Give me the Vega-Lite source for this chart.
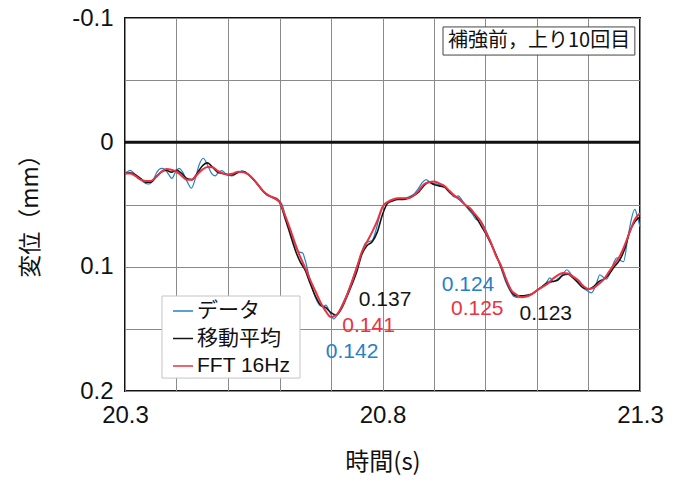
{
  "$schema": "https://vega.github.io/schema/vega-lite/v6.json",
  "width": 515,
  "height": 373,
  "autosize": {"type": "none"},
  "padding": {"left": 125, "top": 18, "right": 43, "bottom": 91},
  "background": "white",
  "config": {
    "view": {"stroke": "#111", "strokeWidth": 2},
    "font": "Liberation Sans"
  },
  "datasets": {
    "raw": [
      {"t":20.300,"v":0.025},{"t":20.305,"v":0.0235},{"t":20.310,"v":0.0225},{"t":20.320,"v":0.026},{"t":20.330,"v":0.030},
      {"t":20.340,"v":0.033},{"t":20.347,"v":0.0335},{"t":20.355,"v":0.030},{"t":20.362,"v":0.024},{"t":20.371,"v":0.021},
      {"t":20.378,"v":0.022},{"t":20.385,"v":0.026},{"t":20.391,"v":0.029},{"t":20.398,"v":0.024},{"t":20.405,"v":0.0209},
      {"t":20.412,"v":0.024},{"t":20.420,"v":0.031},{"t":20.429,"v":0.0369},{"t":20.436,"v":0.030},{"t":20.444,"v":0.018},
      {"t":20.452,"v":0.0128},{"t":20.460,"v":0.018},{"t":20.468,"v":0.025},{"t":20.475,"v":0.027},{"t":20.482,"v":0.024},
      {"t":20.488,"v":0.0228},{"t":20.495,"v":0.025},{"t":20.507,"v":0.027},{"t":20.517,"v":0.025},{"t":20.527,"v":0.023},
      {"t":20.537,"v":0.025},{"t":20.547,"v":0.029},{"t":20.557,"v":0.034},{"t":20.567,"v":0.039},{"t":20.577,"v":0.043},
      {"t":20.587,"v":0.044},{"t":20.595,"v":0.045},{"t":20.600,"v":0.047},{"t":20.605,"v":0.050},{"t":20.612,"v":0.060},
      {"t":20.620,"v":0.071},{"t":20.630,"v":0.083},{"t":20.637,"v":0.088},{"t":20.645,"v":0.089},{"t":20.650,"v":0.095},
      {"t":20.660,"v":0.112},{"t":20.670,"v":0.125},{"t":20.678,"v":0.131},{"t":20.685,"v":0.132},{"t":20.690,"v":0.131},
      {"t":20.697,"v":0.136},{"t":20.705,"v":0.142},{"t":20.712,"v":0.139},{"t":20.720,"v":0.132},{"t":20.730,"v":0.123},
      {"t":20.740,"v":0.112},{"t":20.750,"v":0.100},{"t":20.760,"v":0.088},{"t":20.767,"v":0.081},{"t":20.773,"v":0.080},
      {"t":20.780,"v":0.079},{"t":20.787,"v":0.071},{"t":20.795,"v":0.058},{"t":20.803,"v":0.050},{"t":20.810,"v":0.048},
      {"t":20.820,"v":0.047},{"t":20.830,"v":0.045},{"t":20.840,"v":0.045},{"t":20.850,"v":0.044},{"t":20.860,"v":0.042},
      {"t":20.870,"v":0.037},{"t":20.878,"v":0.032},{"t":20.885,"v":0.030},{"t":20.892,"v":0.032},{"t":20.900,"v":0.033},
      {"t":20.910,"v":0.034},{"t":20.920,"v":0.036},{"t":20.930,"v":0.040},{"t":20.940,"v":0.044},{"t":20.947,"v":0.043},
      {"t":20.955,"v":0.047},{"t":20.965,"v":0.053},{"t":20.975,"v":0.058},{"t":20.982,"v":0.062},{"t":20.990,"v":0.063},
      {"t":21.000,"v":0.070},{"t":21.010,"v":0.080},{"t":21.020,"v":0.090},{"t":21.030,"v":0.101},{"t":21.040,"v":0.113},
      {"t":21.050,"v":0.121},{"t":21.055,"v":0.124},{"t":21.065,"v":0.125},{"t":21.075,"v":0.124},{"t":21.085,"v":0.123},
      {"t":21.095,"v":0.121},{"t":21.100,"v":0.119},{"t":21.110,"v":0.116},{"t":21.118,"v":0.113},{"t":21.125,"v":0.109},
      {"t":21.132,"v":0.112},{"t":21.140,"v":0.110},{"t":21.150,"v":0.106},{"t":21.158,"v":0.1025},{"t":21.166,"v":0.106},
      {"t":21.176,"v":0.111},{"t":21.186,"v":0.116},{"t":21.196,"v":0.119},{"t":21.206,"v":0.121},{"t":21.215,"v":0.114},
      {"t":21.222,"v":0.1065},{"t":21.230,"v":0.109},{"t":21.235,"v":0.110},{"t":21.245,"v":0.101},{"t":21.255,"v":0.093},
      {"t":21.262,"v":0.095},{"t":21.268,"v":0.096},{"t":21.277,"v":0.075},{"t":21.290,"v":0.054},{"t":21.295,"v":0.060},
      {"t":21.300,"v":0.068}
    ],
    "ma": [
      {"t":20.30,"v":0.025},{"t":20.31,"v":0.0245},{"t":20.32,"v":0.026},{"t":20.33,"v":0.029},{"t":20.34,"v":0.032},
      {"t":20.35,"v":0.032},{"t":20.36,"v":0.028},{"t":20.37,"v":0.024},{"t":20.38,"v":0.0225},{"t":20.39,"v":0.024},
      {"t":20.40,"v":0.0225},{"t":20.41,"v":0.025},{"t":20.42,"v":0.029},{"t":20.43,"v":0.030},{"t":20.44,"v":0.025},
      {"t":20.45,"v":0.019},{"t":20.46,"v":0.0165},{"t":20.47,"v":0.020},{"t":20.48,"v":0.024},{"t":20.49,"v":0.025},
      {"t":20.50,"v":0.026},{"t":20.51,"v":0.026},{"t":20.52,"v":0.024},{"t":20.53,"v":0.0235},{"t":20.54,"v":0.026},
      {"t":20.55,"v":0.030},{"t":20.56,"v":0.035},{"t":20.57,"v":0.040},{"t":20.58,"v":0.043},{"t":20.59,"v":0.045},
      {"t":20.60,"v":0.048},{"t":20.61,"v":0.060},{"t":20.62,"v":0.073},{"t":20.63,"v":0.086},{"t":20.64,"v":0.096},
      {"t":20.65,"v":0.103},{"t":20.66,"v":0.114},{"t":20.67,"v":0.124},{"t":20.68,"v":0.131},{"t":20.69,"v":0.133},
      {"t":20.70,"v":0.137},{"t":20.71,"v":0.139},{"t":20.72,"v":0.134},{"t":20.73,"v":0.125},{"t":20.74,"v":0.115},
      {"t":20.75,"v":0.104},{"t":20.76,"v":0.090},{"t":20.77,"v":0.083},{"t":20.78,"v":0.080},{"t":20.79,"v":0.072},
      {"t":20.80,"v":0.058},{"t":20.81,"v":0.049},{"t":20.82,"v":0.047},{"t":20.83,"v":0.046},{"t":20.84,"v":0.046},
      {"t":20.85,"v":0.045},{"t":20.86,"v":0.043},{"t":20.87,"v":0.040},{"t":20.88,"v":0.035},{"t":20.89,"v":0.032},
      {"t":20.90,"v":0.034},{"t":20.91,"v":0.035},{"t":20.92,"v":0.036},{"t":20.93,"v":0.040},{"t":20.94,"v":0.043},
      {"t":20.95,"v":0.046},{"t":20.96,"v":0.050},{"t":20.97,"v":0.054},{"t":20.98,"v":0.059},{"t":20.99,"v":0.066},
      {"t":21.00,"v":0.073},{"t":21.01,"v":0.081},{"t":21.02,"v":0.090},{"t":21.03,"v":0.100},{"t":21.04,"v":0.111},
      {"t":21.05,"v":0.120},{"t":21.06,"v":0.1235},{"t":21.07,"v":0.1235},{"t":21.08,"v":0.123},{"t":21.09,"v":0.122},
      {"t":21.10,"v":0.119},{"t":21.11,"v":0.116},{"t":21.12,"v":0.113},{"t":21.13,"v":0.112},{"t":21.14,"v":0.111},
      {"t":21.15,"v":0.107},{"t":21.16,"v":0.106},{"t":21.17,"v":0.109},{"t":21.18,"v":0.113},{"t":21.19,"v":0.117},
      {"t":21.20,"v":0.118},{"t":21.21,"v":0.116},{"t":21.22,"v":0.112},{"t":21.23,"v":0.110},{"t":21.24,"v":0.106},
      {"t":21.25,"v":0.100},{"t":21.26,"v":0.095},{"t":21.27,"v":0.086},{"t":21.28,"v":0.072},{"t":21.29,"v":0.064},
      {"t":21.30,"v":0.060}
    ],
    "fft": [
      {"t":20.30,"v":0.025},{"t":20.31,"v":0.025},{"t":20.32,"v":0.027},{"t":20.33,"v":0.030},{"t":20.34,"v":0.031},
      {"t":20.35,"v":0.031},{"t":20.36,"v":0.028},{"t":20.37,"v":0.024},{"t":20.38,"v":0.0215},{"t":20.39,"v":0.022},
      {"t":20.40,"v":0.0235},{"t":20.41,"v":0.027},{"t":20.42,"v":0.030},{"t":20.43,"v":0.030},{"t":20.44,"v":0.026},
      {"t":20.45,"v":0.022},{"t":20.46,"v":0.0198},{"t":20.47,"v":0.020},{"t":20.48,"v":0.023},{"t":20.49,"v":0.025},
      {"t":20.50,"v":0.026},{"t":20.51,"v":0.025},{"t":20.52,"v":0.0236},{"t":20.53,"v":0.024},{"t":20.54,"v":0.026},
      {"t":20.55,"v":0.030},{"t":20.56,"v":0.035},{"t":20.57,"v":0.040},{"t":20.58,"v":0.043},{"t":20.59,"v":0.045},
      {"t":20.60,"v":0.048},{"t":20.61,"v":0.058},{"t":20.62,"v":0.069},{"t":20.63,"v":0.081},{"t":20.64,"v":0.092},
      {"t":20.65,"v":0.101},{"t":20.66,"v":0.111},{"t":20.67,"v":0.120},{"t":20.68,"v":0.129},{"t":20.69,"v":0.136},
      {"t":20.70,"v":0.1405},{"t":20.71,"v":0.139},{"t":20.72,"v":0.133},{"t":20.73,"v":0.124},{"t":20.74,"v":0.113},
      {"t":20.75,"v":0.101},{"t":20.76,"v":0.088},{"t":20.77,"v":0.080},{"t":20.78,"v":0.072},{"t":20.79,"v":0.063},
      {"t":20.80,"v":0.052},{"t":20.81,"v":0.048},{"t":20.82,"v":0.046},{"t":20.83,"v":0.045},{"t":20.84,"v":0.045},
      {"t":20.85,"v":0.045},{"t":20.86,"v":0.043},{"t":20.87,"v":0.039},{"t":20.88,"v":0.034},{"t":20.89,"v":0.032},
      {"t":20.90,"v":0.0315},{"t":20.91,"v":0.033},{"t":20.92,"v":0.035},{"t":20.93,"v":0.039},{"t":20.94,"v":0.043},
      {"t":20.95,"v":0.046},{"t":20.96,"v":0.050},{"t":20.97,"v":0.053},{"t":20.98,"v":0.058},{"t":20.99,"v":0.063},
      {"t":21.00,"v":0.072},{"t":21.01,"v":0.080},{"t":21.02,"v":0.091},{"t":21.03,"v":0.099},{"t":21.04,"v":0.110},
      {"t":21.05,"v":0.119},{"t":21.06,"v":0.1225},{"t":21.07,"v":0.1245},{"t":21.08,"v":0.124},{"t":21.09,"v":0.122},
      {"t":21.10,"v":0.119},{"t":21.11,"v":0.1165},{"t":21.12,"v":0.114},{"t":21.13,"v":0.110},{"t":21.14,"v":0.107},
      {"t":21.15,"v":0.105},{"t":21.16,"v":0.1055},{"t":21.17,"v":0.108},{"t":21.18,"v":0.111},{"t":21.19,"v":0.1155},
      {"t":21.20,"v":0.118},{"t":21.21,"v":0.117},{"t":21.22,"v":0.114},{"t":21.23,"v":0.110},{"t":21.24,"v":0.104},
      {"t":21.25,"v":0.098},{"t":21.26,"v":0.092},{"t":21.27,"v":0.083},{"t":21.28,"v":0.072},{"t":21.29,"v":0.062},
      {"t":21.30,"v":0.057}
    ],
    "labels": [
      {"t":20.805,"v":0.1265,"label":"0.137","s":"移動平均"},
      {"t":20.773,"v":0.1475,"label":"0.141","s":"FFT 16Hz"},
      {"t":20.741,"v":0.169,"label":"0.142","s":"データ"},
      {"t":20.966,"v":0.1145,"label":"0.124","s":"データ"},
      {"t":20.984,"v":0.134,"label":"0.125","s":"FFT 16Hz"},
      {"t":21.117,"v":0.138,"label":"0.123","s":"移動平均"}
    ]
  },
  "encoding": {
    "x": {
      "field": "t", "type": "quantitative",
      "scale": {"domain": [20.3, 21.3], "nice": false, "zero": false},
      "axis": {
        "title": "時間(s)",
        "values": [20.3, 20.4, 20.5, 20.6, 20.7, 20.8, 20.9, 21.0, 21.1, 21.2, 21.3],
        "labelExpr": "abs(datum.value-20.3)<0.001 ? '20.3' : abs(datum.value-20.8)<0.001 ? '20.8' : abs(datum.value-21.3)<0.001 ? '21.3' : ''",
        "labelFont": "Liberation Sans", "labelFontSize": 24, "labelColor": "#111",
        "labelPadding": 12, "labelOverlap": false, "labelFlush": false,
        "ticks": false, "domain": false,
        "grid": true, "gridColor": "#8a8a8a", "gridWidth": 1,
        "titleFont": "Noto Sans CJK JP", "titleFontSize": 24, "titleFontWeight": "normal", "titleColor": "#111",
        "titleY": 71, "titleBaseline": "middle"
      }
    },
    "y": {
      "field": "v", "type": "quantitative",
      "scale": {"domain": [-0.1, 0.2], "reverse": true, "nice": false, "zero": false},
      "axis": {
        "title": "変位（mm）",
        "values": [-0.1, -0.05, 0, 0.05, 0.1, 0.15, 0.2],
        "labelExpr": "abs(datum.value+0.1)<1e-6 ? '-0.1' : abs(datum.value)<1e-6 ? '0' : abs(datum.value-0.1)<1e-6 ? '0.1' : abs(datum.value-0.2)<1e-6 ? '0.2' : ''",
        "labelFont": "Liberation Sans", "labelFontSize": 24, "labelColor": "#111",
        "labelPadding": 12, "labelOverlap": false, "labelFlush": false,
        "ticks": false, "domain": false,
        "grid": true, "gridColor": "#8a8a8a", "gridWidth": 1,
        "titleFont": "Noto Sans CJK JP", "titleFontSize": 23, "titleFontWeight": "normal", "titleColor": "#111",
        "titleX": -95, "titleY": 192, "titleAngle": -90, "titleAlign": "center", "titleBaseline": "middle"
      }
    }
  },
  "layer": [
    {
      "data": {"name": "raw"},
      "mark": {"type": "line", "strokeWidth": 1.2, "interpolate": "monotone"},
      "encoding": {
        "color": {
          "datum": "データ", "type": "nominal", "title": null,
          "scale": {"domain": ["データ", "移動平均", "FFT 16Hz"], "range": ["#2680c8", "#151515", "#ea3340"]},
          "legend": {
            "orient": "none", "legendX": 47, "legendY": 282, "title": null,
            "padding": 0, "symbolType": "stroke", "symbolSize": 400, "symbolStrokeWidth": 1.5,
            "labelFont": "Liberation Sans, Noto Sans CJK JP", "labelFontSize": 21, "labelColor": "#111",
            "labelOffset": 3, "rowPadding": 6.5, "labelLimit": 300
          }
        }
      }
    },
    {
      "data": {"name": "ma"},
      "mark": {"type": "line", "strokeWidth": 1.6, "interpolate": "monotone"},
      "encoding": {"color": {"datum": "移動平均", "type": "nominal", "title": null}}
    },
    {
      "data": {"name": "fft"},
      "mark": {"type": "line", "strokeWidth": 2, "interpolate": "monotone"},
      "encoding": {"color": {"datum": "FFT 16Hz", "type": "nominal", "title": null}}
    },
    {
      "data": {"values": [{"zero": 0}]},
      "mark": {"type": "rule", "color": "#111", "strokeWidth": 3},
      "encoding": {"y": {"field": "zero", "type": "quantitative"}, "x": {"value": 0}, "x2": {"value": 515}}
    },
    {
      "data": {"values": [{"t1": 20.3718, "t2": 20.6398, "v1": 0.1236, "v2": 0.1896}]},
      "mark": {"type": "rect", "fill": "white", "stroke": "#c4c4c4", "strokeWidth": 1},
      "encoding": {
        "x": {"field": "t1", "type": "quantitative"}, "x2": {"field": "t2"},
        "y": {"field": "v1", "type": "quantitative"}, "y2": {"field": "v2"}
      }
    },
    {
      "data": {"values": [{"t1": 20.9175, "t2": 21.290, "v1": -0.0928, "v2": -0.0702, "tc": 21.104, "vc": -0.0815, "label": "補強前，上り10回目"}]},
      "layer": [
        {
          "mark": {"type": "rect", "fill": "white", "stroke": "#444", "strokeWidth": 1},
          "encoding": {
            "x": {"field": "t1", "type": "quantitative"}, "x2": {"field": "t2"},
            "y": {"field": "v1", "type": "quantitative"}, "y2": {"field": "v2"}
          }
        },
        {
          "mark": {"type": "text", "font": "Noto Sans CJK JP", "fontSize": 20, "color": "#111", "align": "center", "baseline": "middle"},
          "encoding": {
            "x": {"field": "tc", "type": "quantitative"},
            "y": {"field": "vc", "type": "quantitative"},
            "text": {"field": "label"}
          }
        }
      ]
    },
    {
      "data": {"name": "labels"},
      "mark": {"type": "text", "font": "Liberation Sans", "fontSize": 21, "align": "center", "baseline": "middle"},
      "encoding": {
        "text": {"field": "label"},
        "color": {"field": "s", "type": "nominal", "title": null}
      }
    }
  ]
}
